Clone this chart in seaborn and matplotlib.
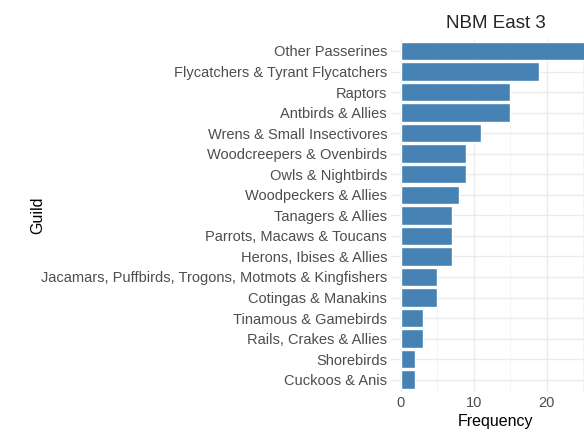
import matplotlib
matplotlib.use("Agg")
import matplotlib.pyplot as plt
import pandas as pd
import seaborn as sns
from matplotlib.ticker import MultipleLocator

guilds = [
    "Other Passerines",
    "Flycatchers & Tyrant Flycatchers",
    "Raptors",
    "Antbirds & Allies",
    "Wrens & Small Insectivores",
    "Woodcreepers & Ovenbirds",
    "Owls & Nightbirds",
    "Woodpeckers & Allies",
    "Tanagers & Allies",
    "Parrots, Macaws & Toucans",
    "Herons, Ibises & Allies",
    "Jacamars, Puffbirds, Trogons, Motmots & Kingfishers",
    "Cotingas & Manakins",
    "Tinamous & Gamebirds",
    "Rails, Crakes & Allies",
    "Shorebirds",
    "Cuckoos & Anis",
]
frequency = [26, 19, 15, 15, 11, 9, 9, 8, 7, 7, 7, 5, 5, 3, 3, 2, 2]

df = pd.DataFrame({"Guild": guilds, "Frequency": frequency})

sns.set_style("white")
plt.rcParams["font.family"] = ["Liberation Sans", "DejaVu Sans"]

fig = plt.figure(figsize=(5.84, 4.33), dpi=100)
# panel runs past the right edge, like the cropped reference
ax = fig.add_axes([0.670, 0.0947, 0.357, 0.816])

sns.barplot(data=df, x="Frequency", y="Guild", orient="h", color="#4682B4",
            saturation=1, width=0.9, ax=ax)

ax.xaxis.set_major_locator(MultipleLocator(10))
ax.xaxis.set_minor_locator(MultipleLocator(5))
ax.grid(True, which="major", axis="both", color="#ebebeb", linewidth=1.0)
ax.grid(True, which="minor", axis="x", color="#f3f3f3", linewidth=0.6)
ax.set_axisbelow(True)

ax.set_xlim(-1.3, 27.3)
ax.set_ylim(16.6, -0.6)
for s in ax.spines.values():
    s.set_visible(False)
ax.tick_params(axis="both", which="both", length=0, labelsize=10.5,
               labelcolor="#4d4d4d", pad=3)
ax.set_xlabel("Frequency", fontsize=11.5, color="black", labelpad=3)
ax.set_ylabel("Guild", fontsize=11.5, color="black")
ax.yaxis.set_label_coords(-1.66, 0.5)
ax.set_title("NBM East 3", fontsize=13.5, pad=8)

fig.savefig("out.png", dpi=100)
